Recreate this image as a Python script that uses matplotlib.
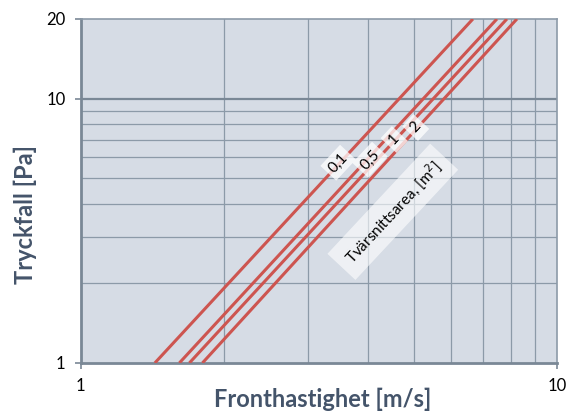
import numpy as np
import matplotlib
matplotlib.use("Agg")
import matplotlib.pyplot as plt

plt.rcParams['font.family'] = ['Lato', 'DejaVu Sans']

# Tvärsnittsarea [m2] och avlästa punkter (hastighet vid 1 Pa och 20 Pa)
areas = ['0,1', '0,5', '1', '2']
v_at_1pa = [1.43, 1.61, 1.69, 1.80]
v_at_20pa = [6.66, 7.48, 7.85, 8.24]
dp_ends = [1, 20]

# etiketternas placering (data-koordinater)
label_x = [3.47, 4.05, 4.55, 5.05]
label_y = [5.72, 5.87, 7.0, 7.77]

bg = '#d6dce5'
red = '#cd5550'
txt = '#44546a'

fig = plt.figure(figsize=(5.82, 4.12), dpi=100)
ax = fig.add_axes([0.139, 0.119, 0.818, 0.835])
ax.set_facecolor(bg)
ax.set_xscale('log')
ax.set_yscale('log')
ax.set_xlim(1, 10)
ax.set_ylim(1, 20)

# rutnät
for xv in range(2, 10):
    ax.axvline(xv, color='#8c9aa8', lw=0.9, zorder=1)
for yv in range(2, 10):
    ax.axhline(yv, color='#8c9aa8', lw=0.9, zorder=1)
ax.axhline(10, color='#7a8896', lw=1.6, zorder=1)

for a, v1, v20 in zip(areas, v_at_1pa, v_at_20pa):
    ax.plot([v1, v20], dp_ends, color=red, lw=2.2, zorder=3, solid_capstyle='butt')

for a, lx, ly in zip(areas, label_x, label_y):
    ax.text(lx, ly, a, rotation=47, ha='center', va='center', fontsize=11,
            color='black', zorder=4,
            bbox=dict(boxstyle='square,pad=0.25', fc='white', ec='none', alpha=0.75))

ax.text(4.52, 3.73, 'Tvärsnittsarea, [m$^2$]', rotation=47, ha='center', va='center',
        fontsize=11, color='black', zorder=4,
        bbox=dict(boxstyle='square,pad=0.6', fc='white', ec='none', alpha=0.6))

ax.set_xticks([1, 10])
ax.set_xticklabels(['1', '10'])
ax.set_yticks([1, 10, 20])
ax.set_yticklabels(['1', '10', '20'])
ax.xaxis.set_minor_locator(matplotlib.ticker.NullLocator())
ax.yaxis.set_minor_locator(matplotlib.ticker.NullLocator())
ax.tick_params(axis='both', labelsize=12, colors='#7a8896', labelcolor='black',
               length=4, width=1.2, pad=7)

for s in ax.spines.values():
    s.set_color('#8c9aa8')
    s.set_linewidth(1.2)
ax.spines['left'].set_linewidth(2)
ax.spines['bottom'].set_linewidth(2)
ax.spines['left'].set_color('#7a8896')
ax.spines['bottom'].set_color('#7a8896')

fig.text(323 / 582, 1 - 399 / 412, 'Fronthastighet [m/s]', fontsize=17, fontweight='bold',
         color=txt, ha='center', va='center')
fig.text(25 / 582, 1 - 214 / 412, 'Tryckfall [Pa]', fontsize=17, fontweight='bold',
         color=txt, ha='center', va='center', rotation=90)

fig.savefig('out.png', dpi=100, facecolor='white')
